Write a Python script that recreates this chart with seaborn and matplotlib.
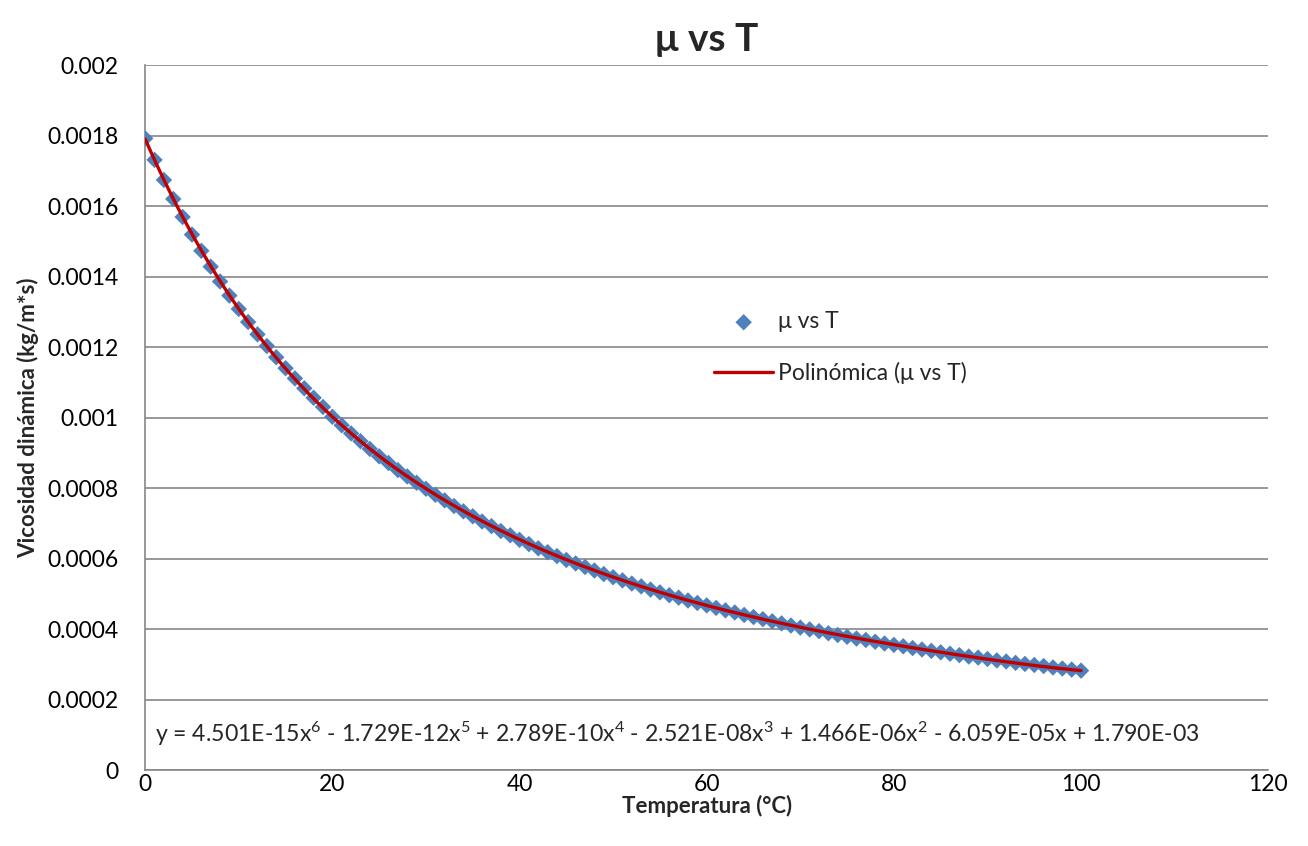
import numpy as np
import pandas as pd
import matplotlib
matplotlib.use('Agg')
import matplotlib.pyplot as plt
import seaborn as sns

# Datos: temperatura (°C) y viscosidad dinámica (kg/m*s)
temperatura = np.arange(0, 101)
viscosidad_mpa = [
    1.792, 1.731, 1.674, 1.620, 1.569, 1.519, 1.473, 1.428, 1.386, 1.346,
    1.308, 1.271, 1.236, 1.203, 1.171, 1.140, 1.111, 1.083, 1.056, 1.030,
    1.002, 0.978, 0.955, 0.933, 0.911, 0.890, 0.871, 0.851, 0.833, 0.815,
    0.798, 0.781, 0.765, 0.749, 0.734, 0.720, 0.705, 0.692, 0.678, 0.666,
    0.653, 0.641, 0.629, 0.618, 0.607, 0.596, 0.586, 0.576, 0.566, 0.556,
    0.547, 0.538, 0.529, 0.521, 0.512, 0.504, 0.496, 0.489, 0.481, 0.474,
    0.467, 0.460, 0.453, 0.447, 0.440, 0.434, 0.428, 0.422, 0.416, 0.410,
    0.404, 0.399, 0.394, 0.388, 0.383, 0.378, 0.373, 0.369, 0.364, 0.359,
    0.355, 0.351, 0.346, 0.342, 0.338, 0.334, 0.330, 0.326, 0.322, 0.319,
    0.315, 0.311, 0.308, 0.304, 0.301, 0.298, 0.295, 0.291, 0.288, 0.285,
    0.282,
]
# coeficientes de la linea de tendencia (grado 6), tal como aparecen en la ecuacion
coef = [4.501e-15, -1.729e-12, 2.789e-10, -2.521e-08, 1.466e-06, -6.059e-05, 1.790e-03]

df = pd.DataFrame({'T': temperatura, 'mu': np.array(viscosidad_mpa) / 1000})
t_fit = np.linspace(0, 100, 300)
df_fit = pd.DataFrame({'T': t_fit, 'mu': np.polyval(coef, t_fit)})

sns.set_style('white')
plt.rcParams['font.family'] = ['Lato', 'DejaVu Sans']
plt.rcParams['mathtext.default'] = 'regular'

fig = plt.figure(figsize=(13.08, 8.46), dpi=100)
ax = fig.add_axes([0.111, 0.0898, 0.8586, 0.8333])

sns.scatterplot(data=df, x='T', y='mu', marker='D', s=70, color='#4F81BD',
                edgecolor='none', ax=ax, label='μ vs T', zorder=3)
sns.lineplot(data=df_fit, x='T', y='mu', color='#C00000', linewidth=2.4,
             ax=ax, label='Polinómica (μ vs T)', zorder=4)

ax.set_xlim(0, 120)
ax.set_ylim(0, 0.002)
ax.set_xticks(np.arange(0, 121, 20))
ax.set_yticks(np.arange(0, 0.00201, 0.0002))
ax.set_yticklabels(['0', '0.0002', '0.0004', '0.0006', '0.0008', '0.001',
                    '0.0012', '0.0014', '0.0016', '0.0018', '0.002'])
ax.tick_params(axis='both', labelsize=16.5, length=0, colors='black')
ax.tick_params(axis='x', pad=3)
ax.tick_params(axis='y', pad=19)
ax.yaxis.grid(True, color='#868686', linewidth=1.2)
for s in ['top', 'right']:
    ax.spines[s].set_visible(False)
for s in ['left', 'bottom']:
    ax.spines[s].set_color('#868686')
    ax.spines[s].set_linewidth(1.2)

ax.set_xlabel('Temperatura (°C)', fontsize=16, fontweight='bold', labelpad=0)
ax.set_ylabel('Vicosidad dinámica (kg/m*s)', fontsize=16, fontweight='bold', labelpad=6)
ax.set_title('μ vs T', fontsize=28, fontweight='bold', pad=10)

ax.text(1, 0.000103,
        'y = 4.501E-15x$^{6}$ - 1.729E-12x$^{5}$ + 2.789E-10x$^{4}$ - 2.521E-08x$^{3}$'
        ' + 1.466E-06x$^{2}$ - 6.059E-05x + 1.790E-03',
        fontsize=16.6, va='center', ha='left')

ax.legend(loc='upper left', bbox_to_anchor=(0.488, 0.68), frameon=False,
          fontsize=16.5, handlelength=2.6, handletextpad=0.2, labelspacing=1.3)

fig.savefig('out.png', dpi=100)
